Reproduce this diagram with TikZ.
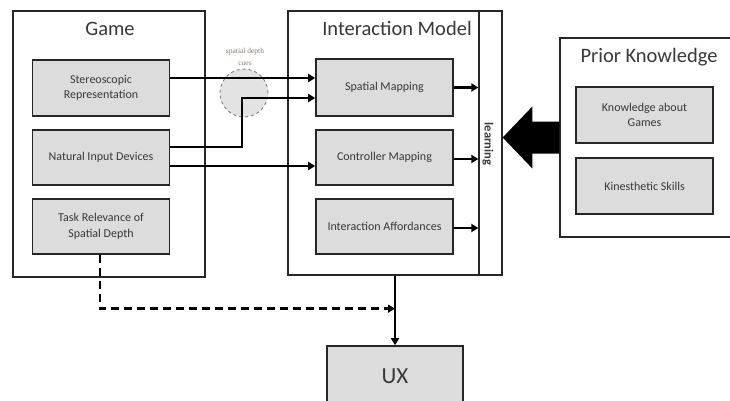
\documentclass[tikz,border=0pt]{standalone}
\usepackage{fontspec}
\setmainfont{Carlito}
\newfontfamily\cuefont{Liberation Serif}
\usetikzlibrary{arrows.meta,calc}
\definecolor{boxfill}{HTML}{DCDCDC}
\definecolor{txt}{HTML}{383838}
\definecolor{cuegray}{HTML}{857A70}
\tikzset{
  outer/.style={draw=black!85, line width=1.3pt, fill=white, inner sep=0pt},
  inbox/.style={draw=black!85, line width=1.6pt, fill=boxfill, inner sep=2pt,
    minimum width=137pt, minimum height=56pt, align=center, text=txt,
    font=\fontsize{12}{15.5}\selectfont},
  title/.style={text=txt, font=\fontsize{20.5}{24}\selectfont, inner sep=0pt},
  arr/.style={line width=2.6pt, -{Triangle[length=7pt,width=8pt]}},
}
\begin{document}
\begin{tikzpicture}[x=1pt,y=-1pt]
\path[use as bounding box, clip] (0,0) rectangle (730,401);
% Game
\node[outer, minimum width=192pt, minimum height=266pt] (game) at (109,144) {};
\node[title] (gametitle) at (110,29) {Game};
\node[inbox] (stereo) at (101,88) {Stereoscopic\\Representation};
\node[inbox, minimum height=55pt] (natural) at (101,157.5) {Natural Input Devices};
\node[inbox, minimum height=55pt] (task) at (101,226.5) {Task Relevance of\\Spatial Depth};
% cues circle
\node[circle, draw=black!50, dashed, line width=0.9pt, fill=boxfill!80!white, minimum size=48pt, inner sep=0pt] (cues) at (244,93) {};
\node[text=cuegray, align=center, font=\cuefont\fontsize{7.5}{12}\selectfont, inner sep=0pt] (cuelabel) at (245,57) {spatial depth\\cues};
% Interaction Model
\node[outer, minimum width=214pt, minimum height=264pt] (im) at (395,143) {};
\node[outer, minimum width=23pt, minimum height=264pt] (learn) at (490.5,143) {};
\node[rotate=-90, text=txt, font=\fontsize{12.5}{14}\selectfont\bfseries, inner sep=0pt] (learntext) at (488,144) {learning};
\node[title] (imtitle) at (397,28) {Interaction Model};
\node[inbox, minimum height=57pt] (spatial) at (384.5,87.5) {Spatial Mapping};
\node[inbox, minimum height=55pt] (ctrl) at (384.5,157.5) {Controller Mapping};
\node[inbox, minimum height=55pt] (afford) at (384.5,226.5) {Interaction Affordances};
% Prior Knowledge
\node[outer, minimum width=200pt, minimum height=199pt] (prior) at (660,137.5) {};
\node[title] (priortitle) at (649,57) {Prior Knowledge};
\node[inbox] (kag) at (644.5,115) {Knowledge about\\Games};
\node[inbox] (kin) at (644.5,186) {Kinesthetic Skills};
% UX
\node[outer, fill=boxfill, line width=1.6pt, minimum width=136pt, minimum height=62pt] (ux) at (395,377) {};
\node[title, font=\fontsize{23}{26}\selectfont] (uxtext) at (395,376) {UX};
% connectors
\draw[arr] ([yshift=10pt]stereo.east) coordinate (s1) -- (s1 -| spatial.west);
\coordinate (bend) at (242,98);
\draw[arr] ([yshift=10.5pt]natural.east) -| (bend) -- (bend -| spatial.west);
\draw[arr] ([yshift=-8.5pt]natural.east) coordinate (n2) -- (n2 -| ctrl.west);
\draw[arr] (spatial.east) -- (spatial.east -| learn.west);
\draw[arr] ([yshift=-1.5pt]ctrl.east) coordinate (c1) -- (c1 -| learn.west);
\draw[arr] ([yshift=-1.5pt]afford.east) coordinate (f1) -- (f1 -| learn.west);
% big arrow
\coordinate (tip) at (learn.east |- prior.west);
\fill[black] ($(prior.west)+(0,-16)$) -- ++(-27,0) -- ++(0,-15) -- (tip)
  -- ($(prior.west)+(-27,31)$) -- ++(0,-15) -- ($(prior.west)+(0,16)$) -- cycle;
% bottom
\coordinate (join) at ($(im.south)+(0,33)$);
\draw[arr, dash pattern=on 8pt off 5pt] ([xshift=-1pt]task.south) |- (join);
\draw[arr] (im.south) -- (ux.north);
\end{tikzpicture}
\end{document}
